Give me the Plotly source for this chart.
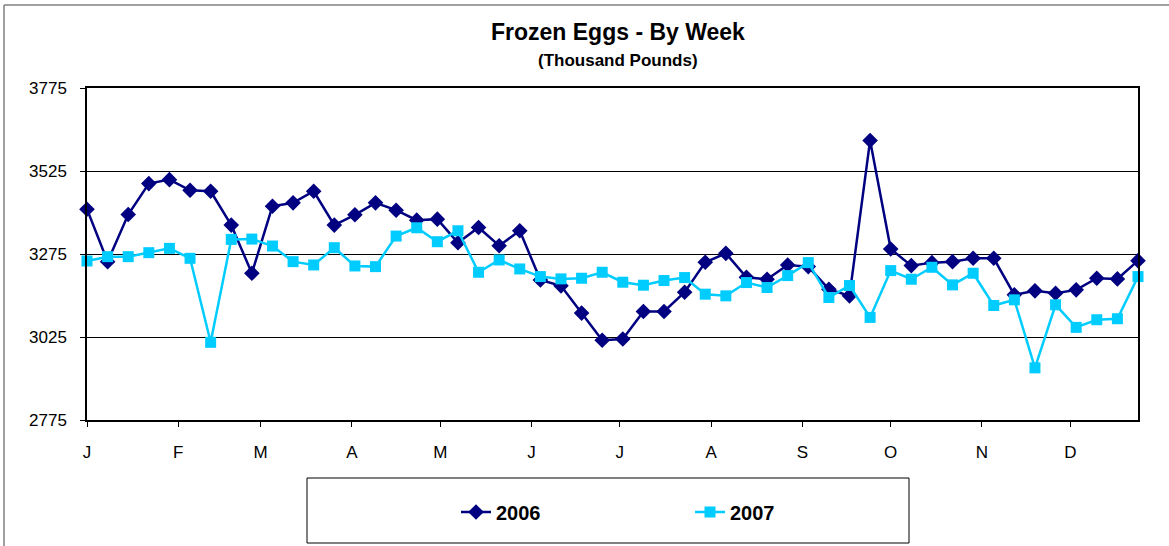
import plotly.graph_objects as go

weeks = list(range(52))
vals_2006 = [3410, 3252, 3394, 3487, 3499, 3467, 3464, 3362, 3217, 3419,
             3429, 3464, 3362, 3393, 3429, 3407, 3377, 3380, 3309, 3355,
             3300, 3345, 3197, 3179, 3097, 3015, 3019, 3102, 3102, 3160,
             3250, 3277, 3205, 3199, 3242, 3237, 3169, 3149, 3617, 3290,
             3240, 3249, 3252, 3262, 3262, 3152, 3164, 3157, 3167, 3202,
             3200, 3255]
vals_2007 = [3254, 3267, 3267, 3279, 3292, 3262, 3009, 3319, 3320, 3299,
             3252, 3242, 3294, 3239, 3237, 3329, 3354, 3312, 3345, 3220,
             3257, 3230, 3207, 3200, 3202, 3220, 3190, 3181, 3195, 3204,
             3154, 3149, 3189, 3174, 3210, 3249, 3144, 3180, 3084, 3225,
             3199, 3235, 3182, 3217, 3120, 3137, 2932, 3122, 3054, 3077,
             3080, 3207]
month_labels = ["J", "F", "M", "A", "M", "J", "J", "A", "S", "O", "N", "D"]
month_start_days = [0, 31, 59, 90, 120, 151, 181, 212, 243, 273, 304, 334]
y_ticks = [2775, 3025, 3275, 3525, 3775]

FONT = "Arial, Liberation Sans, sans-serif"
W, H = 1169, 546
L, R, T, B = 87, 1138, 88, 420


def px_x(p):
    return (p - L) / (R - L)


def px_y(p):
    return (B - p) / (B - T)


fig = go.Figure()
fig.add_trace(go.Scatter(
    x=weeks, y=vals_2006, name="2006", mode="lines+markers",
    line=dict(color="#000080", width=2.5),
    marker=dict(symbol="diamond", size=12, color="#000080"),
    cliponaxis=False,
))
fig.add_trace(go.Scatter(
    x=weeks, y=vals_2007, name="2007", mode="lines+markers",
    line=dict(color="#00CCFF", width=2.5),
    marker=dict(symbol="square", size=11, color="#00CCFF"),
    cliponaxis=False,
))

shapes = [
    # legend box
    dict(type="rect", xref="paper", yref="paper",
         x0=px_x(307), x1=px_x(909), y0=px_y(543), y1=px_y(478),
         line=dict(color="black", width=1), fillcolor="rgba(0,0,0,0)", layer="below"),
    # outer chart border (top and left)
    dict(type="line", xref="paper", yref="paper",
         x0=px_x(4), x1=px_x(1169), y0=px_y(5), y1=px_y(5),
         line=dict(color="#808080", width=1.5)),
    dict(type="line", xref="paper", yref="paper",
         x0=px_x(4), x1=px_x(4), y0=px_y(5), y1=px_y(546),
         line=dict(color="#808080", width=1.5)),
]

annotations = [
    dict(text="<b>Frozen Eggs - By Week</b>", xref="paper", yref="paper",
         x=px_x(618), y=px_y(32), showarrow=False,
         font=dict(family=FONT, size=23, color="black"),
         xanchor="center", yanchor="middle"),
    dict(text="<b>(Thousand Pounds)</b>", xref="paper", yref="paper",
         x=px_x(618), y=px_y(60), showarrow=False,
         font=dict(family=FONT, size=17, color="black"),
         xanchor="center", yanchor="middle"),
]

fig.update_layout(
    width=W, height=H,
    margin=dict(l=L, r=W - R, t=T, b=H - B, pad=0),
    paper_bgcolor="white", plot_bgcolor="white",
    font=dict(family=FONT, color="black"),
    showlegend=True,
    legend=dict(
        orientation="h", x=px_x(456), y=px_y(512), xanchor="left", yanchor="middle",
        font=dict(family=FONT, size=20, color="black", weight="bold"),
        entrywidth=189, entrywidthmode="pixels",
        bgcolor="rgba(0,0,0,0)", borderwidth=0,
    ),
    shapes=shapes,
    annotations=annotations,
    xaxis=dict(
        range=[0, 51],
        tickvals=[d / 7 for d in month_start_days],
        ticktext=month_labels,
        ticks="outside", ticklen=5, tickcolor="black",
        showline=True, linecolor="black", linewidth=1.5, mirror=True,
        showgrid=False, zeroline=False,
        tickfont=dict(family=FONT, size=17, color="black"),
        ticklabelstandoff=11,
    ),
    yaxis=dict(
        range=[2775, 3775],
        tickvals=y_ticks,
        ticks="outside", ticklen=5, tickcolor="black",
        showline=True, linecolor="black", linewidth=1.5, mirror=True,
        showgrid=True, gridcolor="black", gridwidth=1,
        zeroline=False,
        tickfont=dict(family=FONT, size=17, color="black"),
        ticklabelstandoff=10,
    ),
)

fig.write_html(
    "out.html",
    config={"displayModeBar": False},
    post_script="document.body.style.margin='0';document.body.style.overflow='hidden';",
)
